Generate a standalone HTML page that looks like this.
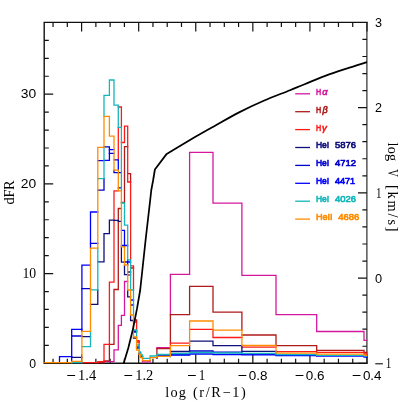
<!DOCTYPE html><html><head><meta charset="utf-8"><style>html,body{margin:0;padding:0;background:#fff}svg{display:block;will-change:transform;opacity:0.999}text{font-family:"Liberation Serif",serif;fill:#000}.s{font-family:"Liberation Sans",sans-serif}.b{font-family:"Liberation Sans",sans-serif;font-weight:normal;stroke-width:0.65px}</style></head><body>
<svg width="407" height="407" viewBox="0 0 407 407">
<rect width="407" height="407" fill="#fff"/>
<clipPath id="c"><rect x="44.2" y="22.4" width="323.4" height="341.6"/></clipPath>
<path d="M367.00 363.3v-9.0M367.00 22.4v9.0M352.73 363.3v-4.6M352.73 22.4v4.6M338.46 363.3v-4.6M338.46 22.4v4.6M324.19 363.3v-4.6M324.19 22.4v4.6M309.92 363.3v-9.0M309.92 22.4v9.0M295.65 363.3v-4.6M295.65 22.4v4.6M281.38 363.3v-4.6M281.38 22.4v4.6M267.11 363.3v-4.6M267.11 22.4v4.6M252.84 363.3v-9.0M252.84 22.4v9.0M238.57 363.3v-4.6M238.57 22.4v4.6M224.30 363.3v-4.6M224.30 22.4v4.6M210.03 363.3v-4.6M210.03 22.4v4.6M195.76 363.3v-9.0M195.76 22.4v9.0M181.49 363.3v-4.6M181.49 22.4v4.6M167.22 363.3v-4.6M167.22 22.4v4.6M152.95 363.3v-4.6M152.95 22.4v4.6M138.68 363.3v-9.0M138.68 22.4v9.0M124.41 363.3v-4.6M124.41 22.4v4.6M110.14 363.3v-4.6M110.14 22.4v4.6M95.87 363.3v-4.6M95.87 22.4v4.6M81.60 363.3v-9.0M81.60 22.4v9.0M67.33 363.3v-4.6M67.33 22.4v4.6M53.06 363.3v-4.6M53.06 22.4v4.6M44.2 363.30h9.0M44.2 345.36h4.6M44.2 327.42h4.6M44.2 309.47h4.6M44.2 291.53h4.6M44.2 273.59h9.0M44.2 255.65h4.6M44.2 237.71h4.6M44.2 219.76h4.6M44.2 201.82h4.6M44.2 183.88h9.0M44.2 165.94h4.6M44.2 147.99h4.6M44.2 130.05h4.6M44.2 112.11h4.6M44.2 94.17h9.0M44.2 76.23h4.6M44.2 58.28h4.6M44.2 40.34h4.6M367.0 363.30h-9.0M367.0 346.25h-4.6M367.0 329.21h-4.6M367.0 312.17h-4.6M367.0 295.12h-4.6M367.0 278.07h-9.0M367.0 261.03h-4.6M367.0 243.99h-4.6M367.0 226.94h-4.6M367.0 209.89h-4.6M367.0 192.85h-9.0M367.0 175.80h-4.6M367.0 158.76h-4.6M367.0 141.71h-4.6M367.0 124.67h-4.6M367.0 107.62h-9.0M367.0 90.58h-4.6M367.0 73.54h-4.6M367.0 56.49h-4.6M367.0 39.44h-4.6" stroke="#111" stroke-width="1.2" fill="none"/>
<path d="M44.2 22.4H367.0M44.2 363.3H367.0M44.2 22.4V363.3" fill="none" stroke="#111" stroke-width="1.4" stroke-linecap="square"/>
<path d="M366.9 22.4V363.3" fill="none" stroke="#222" stroke-width="1.15"/>
<g clip-path="url(#c)" fill="none" stroke-width="1.30" stroke-linecap="square">
<path d="M104.0 361.7H109.4M109.4 361.7H114.0M114.0 349.8H118.3M118.3 325.4H121.4M121.4 315.3H124.5M124.5 281.5H127.7M127.7 275.0H130.6M142.5 361.9H150.1M156.9 347.6H170.4M170.4 274.3H189.6M189.6 152.4H213.0M213.0 203.2H241.9M241.9 275.3H276.0M276.0 314.6H316.7M316.7 331.5H364.0M364.0 340.4H367.0M114.0 349.8V361.7M118.3 325.4V349.8M121.4 315.3V325.4M124.5 281.5V315.3M142.5 360.6V361.9M150.1 360.6V361.9M156.9 347.6V348.7M156.9 358.0V358.3M170.4 274.3V314.6M189.6 152.4V274.3M213.0 152.4V203.2M241.9 203.2V275.3M276.0 275.3V314.6M316.7 314.6V331.5M364.0 331.5V340.4" stroke="#d4189e"/>
<path d="M97.8 362.6H104.0M104.0 360.8H109.4M109.4 344.3H114.0M114.0 289.5H118.3M118.3 208.5H121.4M121.4 202.5H124.5M124.5 146.6H127.7M127.7 173.6H130.6M130.6 268.0H133.5M133.5 320.0H136.6M136.6 342.0H139.1M140.6 356.0H142.5M156.9 348.7H170.4M170.4 314.6H189.6M189.6 286.3H213.0M213.0 312.2H241.9M241.9 335.0H276.0M276.0 345.6H316.7M316.7 350.3H364.0M364.0 352.5H367.0M104.0 361.6V362.6M109.4 344.3V360.8M114.0 289.5V344.3M118.3 208.5V220.4M118.3 221.4V289.5M124.5 146.6V202.5M130.6 173.6V182.0M136.6 320.0V322.0M156.9 348.7V354.5M170.4 314.6V343.1M189.6 286.3V314.6M213.0 286.3V312.2M241.9 312.2V330.1M276.0 335.0V345.5M316.7 345.6V350.3M364.0 350.3V352.4" stroke="#b01a1a"/>
<path d="M81.9 362.6H90.5M90.5 362.6H97.8M97.8 361.6H104.0M104.0 344.3H109.4M109.4 282.2H114.0M114.0 190.9H118.3M118.3 107.0H121.4M121.4 142.5H124.5M124.5 126.2H127.7M127.7 182.0H130.6M130.6 265.8H133.5M133.5 322.0H136.6M136.6 340.7H139.1M140.6 356.5H142.5M170.4 343.1H189.6M189.6 329.4H213.0M213.0 337.5H241.9M241.9 347.2H276.0M276.0 351.6H316.7M316.7 352.4H364.0M364.0 354.0H367.0M97.8 361.6V362.6M104.0 344.3V361.6M109.4 282.2V344.3M114.0 190.9V220.1M114.0 220.4V282.2M118.3 127.3V159.9M121.4 107.0V127.3M124.5 126.2V142.5M127.7 126.2V182.0M130.6 182.0V259.9M133.5 265.8V290.0M136.6 322.0V330.0M139.1 340.7V345.0M170.4 343.1V345.7M213.0 330.1V337.5M241.9 345.5V345.6M316.7 351.6V352.4M364.0 352.4V354.0" stroke="#ff1a1a"/>
<path d="M71.7 357.4H81.9M81.9 336.7H90.5M90.5 304.3H97.8M97.8 261.8H104.0M104.0 233.6H109.4M109.4 220.1H114.0M114.0 220.4H118.3M118.3 221.4H121.4M121.4 262.1H124.5M124.5 274.7H127.7M127.7 296.8H130.6M130.6 320.5H133.5M133.5 338.0H136.6M139.1 354.0H140.6M170.4 351.5H189.6M189.6 341.2H213.0M213.0 345.6H241.9M241.9 351.3H276.0M97.8 289.8V304.3M104.0 233.6V261.8M109.4 220.1V233.6M114.0 220.1V220.4M118.3 220.4V221.4M121.4 246.9V262.1M124.5 265.0V274.7M127.7 290.0V296.8M130.6 315.0V320.5M133.5 337.0V338.0M170.4 356.3V356.5M189.6 345.7V351.0M213.0 341.2V345.6M241.9 345.6V351.3M276.0 353.2V353.3M316.7 355.3V355.5" stroke="#10107c"/>
<path d="M71.7 336.0H81.9M81.9 288.6H90.5M90.5 243.4H97.8M97.8 190.1H104.0M104.0 146.8H109.4M109.4 153.4H114.0M114.0 172.7H118.3M118.3 187.9H121.4M121.4 245.5H124.5M124.5 262.0H127.7M127.7 272.0H130.6M130.6 305.0H133.5M133.5 332.0H136.6M136.6 348.0H139.1M170.4 354.5H189.6M189.6 351.0H213.0M213.0 352.2H241.9M241.9 354.0H276.0M71.7 356.6V361.3M81.9 329.3V331.3M104.0 178.6V190.1M109.4 146.8V149.7M114.0 170.2V172.7M124.5 245.5V246.9M127.7 262.0V265.0M156.9 357.6V358.0M189.6 351.0V352.5M189.6 353.5V354.0M213.0 351.0V352.2M241.9 352.2V353.0M241.9 353.3V354.0M276.0 354.6V354.8" stroke="#0000cd"/>
<path d="M59.5 356.6H71.7M71.7 329.3H81.9M81.9 265.2H90.5M90.5 212.0H97.8M97.8 160.7H104.0M104.0 160.3H109.4M109.4 149.7H114.0M114.0 159.9H118.3M118.3 172.7H121.4M121.4 230.4H124.5M124.5 245.5H127.7M127.7 262.0H130.6M130.6 300.0H133.5M133.5 331.0H136.6M136.6 347.0H139.1M139.1 353.0H140.6M140.6 357.0H142.5M156.9 355.5H170.4M170.4 355.0H189.6M189.6 354.0H213.0M213.0 354.5H241.9M241.9 354.8H276.0M276.0 355.5H316.7M316.7 356.2H364.0M364.0 357.0H367.0M59.5 356.6V362.2M71.7 329.3V356.6M81.9 265.2V329.3M90.5 212.0V248.1M109.4 149.7V160.3M118.3 159.9V170.2M124.5 230.4V245.5M127.7 259.9V262.0M156.9 356.0V356.3M189.6 354.0V355.0M213.0 354.0V354.5M241.9 354.5V354.8M276.0 354.8V355.5M316.7 355.5V356.2M364.0 356.2V357.0" stroke="#0000ff"/>
<path d="M71.7 362.6H81.9M81.9 346.6H90.5M90.5 289.8H97.8M97.8 178.6H104.0M104.0 95.4H109.4M109.4 80.0H114.0M114.0 105.2H118.3M118.3 127.3H121.4M121.4 203.0H124.5M124.5 225.2H127.7M127.7 259.9H130.6M130.6 290.0H133.5M133.5 330.0H136.6M136.6 345.0H139.1M139.1 352.0H140.6M140.6 355.0H142.5M142.5 358.4H150.1M150.1 356.0H156.9M156.9 354.5H170.4M170.4 353.5H189.6M189.6 352.5H213.0M213.0 353.0H241.9M241.9 353.3H276.0M276.0 354.6H316.7M316.7 355.3H364.0M364.0 356.2H367.0M81.9 361.3V362.6M90.5 331.3V346.6M97.8 248.1V289.8M104.0 95.4V116.4M104.0 147.4V178.6M109.4 80.0V95.4M114.0 80.0V105.2M118.3 105.2V127.3M121.4 127.3V190.9M124.5 203.0V225.2M127.7 225.2V259.9M130.6 259.9V290.0M133.5 290.0V315.0M136.6 330.0V337.0M139.1 345.0V350.2M140.6 352.0V354.5M142.5 355.0V357.6M150.1 356.0V357.6M156.9 354.5V356.0M189.6 352.5V353.5M213.0 352.5V353.0M241.9 353.0V353.3M276.0 353.3V354.6M316.7 354.6V355.3M364.0 355.3V356.2" stroke="#14b6bb"/>
<path d="M44.2 362.6H59.5M59.5 362.6H71.7M71.7 361.3H81.9M81.9 331.3H90.5M90.5 248.1H97.8M97.8 147.4H104.0M104.0 116.4H109.4M109.4 136.2H114.0M114.0 170.2H118.3M118.3 190.9H121.4M121.4 246.9H124.5M124.5 265.0H127.7M127.7 290.0H130.6M130.6 315.0H133.5M133.5 337.0H136.6M136.6 350.2H139.1M139.1 354.5H140.6M140.6 357.6H142.5M142.5 360.6H150.1M150.1 357.6H156.9M156.9 356.3H170.4M170.4 345.7H189.6M189.6 321.0H213.0M213.0 330.1H241.9M241.9 345.5H276.0M276.0 353.2H316.7M316.7 354.2H364.0M364.0 355.3H367.0M71.7 361.3V362.6M81.9 331.3V361.3M90.5 248.1V331.3M97.8 147.4V248.1M104.0 116.4V147.4M109.4 116.4V136.2M114.0 136.2V170.2M118.3 170.2V190.9M121.4 190.9V246.9M124.5 246.9V265.0M127.7 265.0V290.0M130.6 290.0V315.0M133.5 315.0V337.0M136.6 337.0V350.2M139.1 350.2V354.5M140.6 354.5V357.6M142.5 357.6V360.6M150.1 357.6V360.6M156.9 356.3V357.6M170.4 345.7V356.3M189.6 321.0V345.7M213.0 321.0V330.1M241.9 330.1V345.5M276.0 345.5V353.2M316.7 353.2V354.2M364.0 354.2V355.3" stroke="#ff8c00"/>
<path d="M123.7 363.3 L128.3 348.0 L132.7 330.3 L137.1 308.2 L140.2 290.0 L145.6 240.0 L150.2 200.0 L151.3 190.0 L153.0 181.0 L154.9 169.5 L166.7 153.9 C176.1 148.3 187.0 141.8 195.0 137.1 C203.0 132.4 207.2 130.1 214.6 126.0 C221.9 121.9 230.9 116.6 239.1 112.4 C247.3 108.2 255.2 104.5 263.7 100.8 C272.2 97.1 283.2 93.0 290.0 90.2 C296.8 87.4 298.1 86.8 304.6 84.2 C311.1 81.6 320.9 77.4 329.1 74.4 C337.3 71.4 347.4 68.3 353.7 66.3 C360.0 64.3 362.6 63.6 367.0 62.2" stroke="#000" stroke-width="1.75" stroke-linejoin="round" stroke-linecap="butt"/>
</g>
<path d="M352.7 375.5H360.5" stroke="#000" stroke-width="1.05"/>
<text x="362.90" y="380.0" font-size="12.4" textLength="18.70" lengthAdjust="spacingAndGlyphs" class="s">0.4</text>
<path d="M295.6 375.5H303.4" stroke="#000" stroke-width="1.05"/>
<text x="305.82" y="380.0" font-size="12.4" textLength="18.70" lengthAdjust="spacingAndGlyphs" class="s">0.6</text>
<path d="M238.5 375.5H246.3" stroke="#000" stroke-width="1.05"/>
<text x="248.74" y="380.0" font-size="12.4" textLength="18.70" lengthAdjust="spacingAndGlyphs" class="s">0.8</text>
<path d="M188.0 375.5H195.8" stroke="#000" stroke-width="1.05"/>
<text x="198.80" y="380.0" font-size="13.8" textLength="6.50" lengthAdjust="spacingAndGlyphs">1</text>
<path d="M124.4 375.5H132.2" stroke="#000" stroke-width="1.05"/>
<text x="135.18" y="380.0" font-size="13.8" textLength="18.10" lengthAdjust="spacingAndGlyphs">1.2</text>
<path d="M67.3 375.5H75.1" stroke="#000" stroke-width="1.05"/>
<text x="78.10" y="380.0" font-size="13.8" textLength="18.10" lengthAdjust="spacingAndGlyphs">1.4</text>
<text x="29.30" y="367.5" font-size="13.0" textLength="6.81" lengthAdjust="spacingAndGlyphs" class="s">0</text>
<text x="22.40" y="277.8" font-size="14.2" textLength="13.70" lengthAdjust="spacingAndGlyphs">10</text>
<text x="20.70" y="188.1" font-size="13.0" textLength="15.43" lengthAdjust="spacingAndGlyphs" class="s">20</text>
<text x="20.70" y="98.4" font-size="13.0" textLength="15.43" lengthAdjust="spacingAndGlyphs" class="s">30</text>
<path d="M375.3 363.8H382.9" stroke="#000" stroke-width="1.05"/>
<text x="385.80" y="368.2" font-size="14.2" textLength="5.60" lengthAdjust="spacingAndGlyphs">1</text>
<text x="375.10" y="282.7" font-size="13.0" textLength="7.11" lengthAdjust="spacingAndGlyphs" class="s">0</text>
<text x="376.00" y="197.8" font-size="14.2" textLength="5.50" lengthAdjust="spacingAndGlyphs">1</text>
<text x="375.10" y="112.2" font-size="13.0" textLength="7.01" lengthAdjust="spacingAndGlyphs" class="s">2</text>
<text x="375.10" y="27.0" font-size="13.0" textLength="7.01" lengthAdjust="spacingAndGlyphs" class="s">3</text>
<text x="165.20" y="396.6" font-size="14.3" textLength="20.77" lengthAdjust="spacing">log</text>
<text x="192.90" y="396.6" font-size="14.3" textLength="52.87" lengthAdjust="spacing">(r/R−1)</text>
<text transform="translate(13.9 0) rotate(-90)" x="-204.40" y="0" font-size="14.3" textLength="23.97" lengthAdjust="spacing">dFR</text>
<text transform="translate(387.7 0) rotate(90)" x="142.50" y="0" font-size="14.3" textLength="18.67" lengthAdjust="spacing">log</text>
<text transform="translate(387.7 0) rotate(90)" x="169.30" y="0" font-size="14.3" textLength="7.62" lengthAdjust="spacingAndGlyphs">V</text>
<text transform="translate(387.7 0) rotate(90)" x="184.90" y="0" font-size="14.3" textLength="46.71" lengthAdjust="spacing">[km/s]</text>
<path d="M295.2 93.8H310" stroke="#d4189e" stroke-width="1.30"/>
<text class="b" x="315.90" y="94.7" style="font-size:9.5px;fill:#d4189e;stroke:#d4189e" textLength="5.12" lengthAdjust="spacingAndGlyphs">H</text>
<text class="b" x="322.20" y="94.7" font-style="italic" style="font-size:9.5px;fill:#d4189e;stroke:#d4189e" textLength="5.37" lengthAdjust="spacingAndGlyphs">α</text>
<path d="M295.2 111.7H310" stroke="#b01a1a" stroke-width="1.30"/>
<text class="b" x="315.90" y="112.6" style="font-size:9.5px;fill:#b01a1a;stroke:#b01a1a" textLength="5.12" lengthAdjust="spacingAndGlyphs">H</text>
<text class="b" x="322.43" y="112.6" font-style="italic" style="font-size:9.5px;fill:#b01a1a;stroke:#b01a1a" textLength="5.19" lengthAdjust="spacingAndGlyphs">β</text>
<path d="M295.2 129.6H310" stroke="#ff1a1a" stroke-width="1.30"/>
<text class="b" x="315.90" y="130.5" style="font-size:9.5px;fill:#ff1a1a;stroke:#ff1a1a" textLength="5.12" lengthAdjust="spacingAndGlyphs">H</text>
<text class="b" x="322.00" y="130.5" font-style="italic" style="font-size:9.5px;fill:#ff1a1a;stroke:#ff1a1a" textLength="4.73" lengthAdjust="spacingAndGlyphs">γ</text>
<path d="M295.2 147.5H310" stroke="#10107c" stroke-width="1.30"/>
<text class="b" x="315.90" y="148.4" style="font-size:9.5px;fill:#10107c;stroke:#10107c" textLength="13.31" lengthAdjust="spacingAndGlyphs">HeI</text>
<text class="b" x="334.90" y="148.4" style="font-size:9.5px;fill:#10107c;stroke:#10107c" textLength="21.10" lengthAdjust="spacingAndGlyphs">5876</text>
<path d="M295.2 165.4H310" stroke="#0000cd" stroke-width="1.30"/>
<text class="b" x="315.90" y="166.3" style="font-size:9.5px;fill:#0000cd;stroke:#0000cd" textLength="13.31" lengthAdjust="spacingAndGlyphs">HeI</text>
<text class="b" x="334.90" y="166.3" style="font-size:9.5px;fill:#0000cd;stroke:#0000cd" textLength="21.10" lengthAdjust="spacingAndGlyphs">4712</text>
<path d="M295.2 183.3H310" stroke="#0000ff" stroke-width="1.30"/>
<text class="b" x="315.90" y="184.2" style="font-size:9.5px;fill:#0000ff;stroke:#0000ff" textLength="13.31" lengthAdjust="spacingAndGlyphs">HeI</text>
<text class="b" x="334.90" y="184.2" style="font-size:9.5px;fill:#0000ff;stroke:#0000ff" textLength="20.30" lengthAdjust="spacingAndGlyphs">4471</text>
<path d="M295.2 201.2H310" stroke="#14b6bb" stroke-width="1.30"/>
<text class="b" x="315.90" y="202.1" style="font-size:9.5px;fill:#14b6bb;stroke:#14b6bb" textLength="13.31" lengthAdjust="spacingAndGlyphs">HeI</text>
<text class="b" x="334.90" y="202.1" style="font-size:9.5px;fill:#14b6bb;stroke:#14b6bb" textLength="21.10" lengthAdjust="spacingAndGlyphs">4026</text>
<path d="M295.2 219.1H310" stroke="#ff8c00" stroke-width="1.30"/>
<text class="b" x="315.90" y="220.0" style="font-size:9.5px;fill:#ff8c00;stroke:#ff8c00" textLength="16.69" lengthAdjust="spacingAndGlyphs">HeII</text>
<text class="b" x="338.30" y="220.0" style="font-size:9.5px;fill:#ff8c00;stroke:#ff8c00" textLength="21.00" lengthAdjust="spacingAndGlyphs">4686</text>
</svg></body></html>
